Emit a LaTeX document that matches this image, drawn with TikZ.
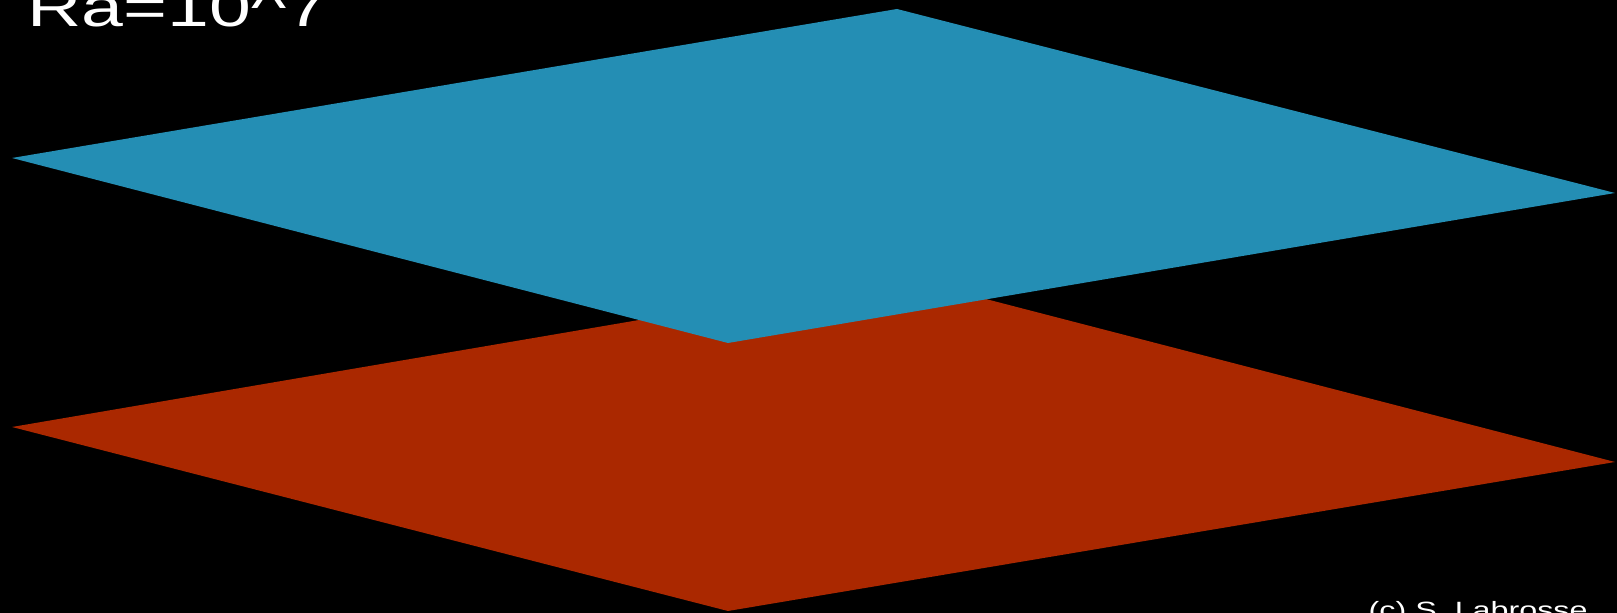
\documentclass[tikz,border=0pt]{standalone}
\usepackage{fontspec}
\setmainfont{Liberation Sans}
\usepackage{graphicx}
\usepackage{xcolor}
\usepackage{tikz}
\usetikzlibrary{positioning}
\definecolor{hotred}{RGB}{170,40,0}
\definecolor{coldblue}{RGB}{36,142,180}
\tikzset{
  plate/.style={draw=none},
  lbl/.style={text=white, inner sep=0pt, anchor=base west}
}
% the screenshot is stretched sideways
\newcommand{\widetext}[1]{\scalebox{1.37}[1.0]{#1}}

\begin{document}
\begin{tikzpicture}[x=0.01cm, y=-0.01cm]
    \fill[black] (0,0) rectangle (1617,613);
    \useasboundingbox (0,0) rectangle (1617,613);
    % bottom plate (hot)
    \fill[plate, hotred] (12,427) -- (897,276) -- (1615,462) -- (728,611) -- cycle;
    % top plate (cold)
    \fill[plate, coldblue] (12,158) -- (897,9) -- (1615,193) -- (728,343) -- cycle;
    \node[lbl, font=\fontsize{15.6}{18}\selectfont] (ra) at (27,27) {\widetext{Ra=10\^{}7}};
    \node[lbl, font=\fontsize{6.7}{8}\selectfont] (credit) at (1368,619) {\widetext{(c) S. Labrosse}};
  \end{tikzpicture}
\end{document}
